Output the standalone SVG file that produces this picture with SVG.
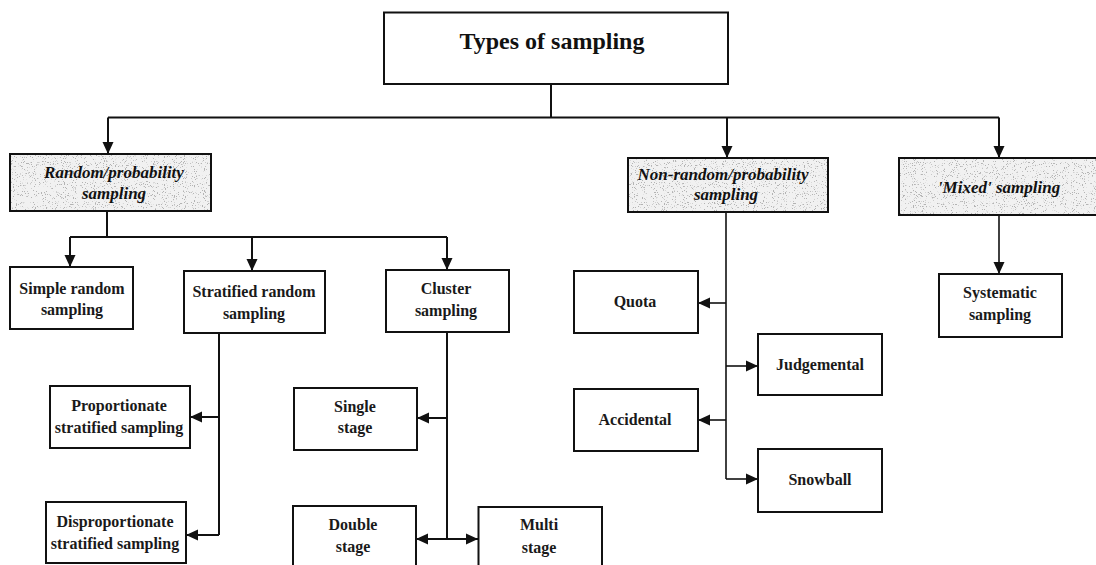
<svg xmlns="http://www.w3.org/2000/svg" width="1096" height="565" viewBox="0 0 1096 565">
  <style>
    .box { fill: #ffffff; stroke: #111111; stroke-width: 2; }
    .shade { fill: #f1f1f1; }
    .frame { fill: none; stroke: #111111; stroke-width: 2; }
    .lbl { font-family: "Liberation Serif", "Times New Roman", serif; font-size: 16px; font-weight: bold; fill: #1a1a1a; text-anchor: middle; }
    .head { font-family: "Liberation Serif", "Times New Roman", serif; font-size: 17px; font-weight: bold; font-style: italic; fill: #111111; text-anchor: middle; }
    .title { font-family: "Liberation Serif", "Times New Roman", serif; font-size: 24px; font-weight: bold; fill: #111111; text-anchor: middle; }
    .wire { fill: none; stroke: #111111; stroke-width: 2; }
    .thin { fill: none; stroke: #111111; stroke-width: 1.6; }
  </style>
  <defs>
    <marker id="arrow" markerUnits="userSpaceOnUse" markerWidth="12" markerHeight="12" refX="12" refY="6" orient="auto-start-reverse" viewBox="0 0 12 12">
      <path d="M0,0.5 L12,6 L0,11.5 z" fill="#111111"/>
    </marker>
    <!-- sparse grey stipple for the three category headers -->
    <filter id="stipple" x="0" y="0" width="100%" height="100%">
      <feTurbulence type="fractalNoise" baseFrequency="0.9" numOctaves="2" seed="7" result="noise"/>
      <feColorMatrix in="noise" type="matrix" values="0 0 0 0 0.45  0 0 0 0 0.45  0 0 0 0 0.45  12 0 0 0 -7.4" result="dots"/>
      <feComposite in="dots" in2="SourceGraphic" operator="in" result="clipped"/>
      <feMerge>
        <feMergeNode in="SourceGraphic"/>
        <feMergeNode in="clipped"/>
      </feMerge>
    </filter>
  </defs>

  <rect x="0" y="0" width="1096" height="565" fill="#ffffff"/>

  <!-- connectors -->
  <g id="connectors">
    <!-- root to the three categories -->
    <path class="wire" d="M551,84 V117.5"/>
    <path class="wire" d="M108,117.5 H999"/>
    <path class="wire" d="M108,117.5 V154" marker-end="url(#arrow)"/>
    <path class="wire" d="M727,117.5 V158" marker-end="url(#arrow)"/>
    <path class="wire" d="M999,117.5 V158" marker-end="url(#arrow)"/>

    <!-- random / probability branch -->
    <path class="wire" d="M107,211 V237"/>
    <path class="wire" d="M70,237 H447"/>
    <path class="wire" d="M70,237 V267" marker-end="url(#arrow)"/>
    <path class="wire" d="M252,237 V271" marker-end="url(#arrow)"/>
    <path class="wire" d="M447,237 V270" marker-end="url(#arrow)"/>

    <!-- stratified random sampling -->
    <path class="wire" d="M219,333 V535"/>
    <path class="wire" d="M219,417 H190" marker-end="url(#arrow)"/>
    <path class="wire" d="M219,535 H186" marker-end="url(#arrow)"/>

    <!-- cluster sampling -->
    <path class="wire" d="M447,332 V539"/>
    <path class="wire" d="M447,418 H417" marker-end="url(#arrow)"/>
    <path class="wire" d="M416,539 H478" marker-start="url(#arrow)" marker-end="url(#arrow)"/>

    <!-- non-random / probability branch -->
    <path class="thin" d="M726,212 V479"/>
    <path class="thin" d="M726,303 H698" marker-end="url(#arrow)"/>
    <path class="thin" d="M726,366 H758" marker-end="url(#arrow)"/>
    <path class="thin" d="M726,420 H698" marker-end="url(#arrow)"/>
    <path class="thin" d="M726,479 H758" marker-end="url(#arrow)"/>

    <!-- mixed sampling -->
    <path class="thin" d="M999,215 V274" marker-end="url(#arrow)"/>
  </g>

  <!-- root -->
  <g id="types-of-sampling">
    <rect class="box" x="384" y="12.5" width="344" height="71.5"/>
    <text class="title" x="552" y="49">Types of sampling</text>
  </g>

  <!-- category headers -->
  <g id="random-probability">
    <rect class="shade" x="10" y="154" width="201" height="57" filter="url(#stipple)"/>
    <rect class="frame" x="10" y="154" width="201" height="57"/>
    <text class="head" x="114" y="178">Random/probability</text>
    <text class="head" x="114" y="199">sampling</text>
  </g>

  <g id="non-random-probability">
    <rect class="shade" x="628" y="158" width="200" height="54" filter="url(#stipple)"/>
    <rect class="frame" x="628" y="158" width="200" height="54"/>
    <text class="head" x="723" y="180">Non-random/probability</text>
    <text class="head" x="726" y="200">sampling</text>
  </g>

  <g id="mixed">
    <rect class="shade" x="899" y="158" width="200" height="57" filter="url(#stipple)"/>
    <rect class="frame" x="899" y="158" width="200" height="57"/>
    <text class="head" x="999" y="193">'Mixed' sampling</text>
  </g>

  <!-- random / probability methods -->
  <g id="simple-random">
    <rect class="box" x="10" y="267" width="123" height="62"/>
    <text class="lbl" x="72" y="294">Simple random</text>
    <text class="lbl" x="72" y="315">sampling</text>
  </g>

  <g id="stratified-random">
    <rect class="box" x="184" y="271" width="141" height="62"/>
    <text class="lbl" x="254" y="297">Stratified random</text>
    <text class="lbl" x="254" y="319">sampling</text>
  </g>

  <g id="cluster">
    <rect class="box" x="386" y="270" width="123" height="62"/>
    <text class="lbl" x="446" y="294">Cluster</text>
    <text class="lbl" x="446" y="316">sampling</text>
  </g>

  <g id="proportionate">
    <rect class="box" x="50" y="386" width="140" height="62"/>
    <text class="lbl" x="119" y="411">Proportionate</text>
    <text class="lbl" x="119" y="433">stratified sampling</text>
  </g>

  <g id="disproportionate">
    <rect class="box" x="46" y="502" width="140" height="61"/>
    <text class="lbl" x="115" y="527">Disproportionate</text>
    <text class="lbl" x="115" y="549">stratified sampling</text>
  </g>

  <g id="single-stage">
    <rect class="box" x="294" y="388" width="123" height="62"/>
    <text class="lbl" x="355" y="412">Single</text>
    <text class="lbl" x="355" y="433">stage</text>
  </g>

  <g id="double-stage">
    <rect class="box" x="293" y="506" width="123" height="70"/>
    <text class="lbl" x="353" y="530">Double</text>
    <text class="lbl" x="353" y="552">stage</text>
  </g>

  <g id="multi-stage">
    <rect class="box" x="478.5" y="507" width="123.5" height="70"/>
    <text class="lbl" x="539" y="530">Multi</text>
    <text class="lbl" x="539" y="553">stage</text>
  </g>

  <!-- non-random methods -->
  <g id="quota">
    <rect class="box" x="574" y="271" width="124" height="62"/>
    <text class="lbl" x="635" y="307">Quota</text>
  </g>

  <g id="judgemental">
    <rect class="box" x="758" y="334" width="124" height="61"/>
    <text class="lbl" x="820" y="370">Judgemental</text>
  </g>

  <g id="accidental">
    <rect class="box" x="574" y="389" width="124" height="62"/>
    <text class="lbl" x="635" y="425">Accidental</text>
  </g>

  <g id="snowball">
    <rect class="box" x="758" y="449" width="124" height="63"/>
    <text class="lbl" x="820" y="485">Snowball</text>
  </g>

  <!-- mixed method -->
  <g id="systematic">
    <rect class="box" x="939" y="274" width="123" height="63"/>
    <text class="lbl" x="1000" y="298">Systematic</text>
    <text class="lbl" x="1000" y="320">sampling</text>
  </g>
</svg>
